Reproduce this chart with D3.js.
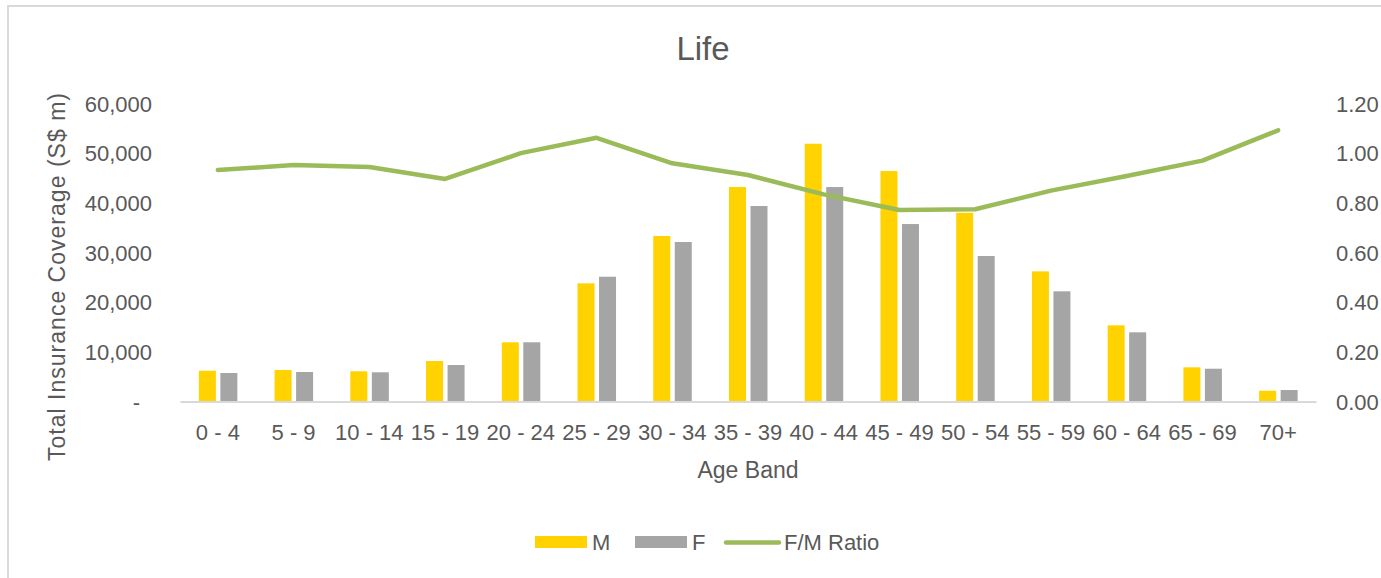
<!DOCTYPE html>
<html>
<head>
<meta charset="utf-8">
<script src="https://cdn.jsdelivr.net/npm/d3@7"></script>
<style>
  body { margin: 0; background: #fff; }
  text { font-family: "Liberation Sans", Arial, sans-serif; fill: #595959; }
</style>
</head>
<body>
<svg id="chart"></svg>
<script>
const ageBands = ["0 - 4", "5 - 9", "10 - 14", "15 - 19", "20 - 24", "25 - 29", "30 - 34",
  "35 - 39", "40 - 44", "45 - 49", "50 - 54", "55 - 59", "60 - 64", "65 - 69", "70+"];
const maleCover = [6200, 6340, 6080, 8150, 11920, 23790, 33320, 43180, 51900, 46400, 38000, 26200, 15340, 6880, 2170];
const femaleCover = [5740, 5940, 5880, 7350, 11920, 25120, 32110, 39360, 43180, 35730, 29290, 22180, 13930, 6600, 2310];
const fmRatio = [0.932, 0.952, 0.944, 0.896, 1.0, 1.062, 0.959, 0.912, 0.834, 0.771, 0.774, 0.849, 0.908, 0.970, 1.092];
const leftTicks = [0, 10000, 20000, 30000, 40000, 50000, 60000];
const rightTicks = [0, 0.2, 0.4, 0.6, 0.8, 1.0, 1.2];

const width = 1381, height = 578;
const margin = { top: 103.5, right: 65, bottom: 176.5, left: 180 };

const svg = d3.select("#chart").attr("width", width).attr("height", height);

// outer frame (only top and left edges visible)
svg.append("path")
  .attr("d", `M8,${height} V6 H${width}`)
  .attr("fill", "none")
  .attr("stroke", "#d9d9d9")
  .attr("stroke-width", 2);

const x = d3.scaleBand().domain(ageBands).range([margin.left, width - margin.right]);
const yL = d3.scaleLinear().domain([0, 60000]).range([height - margin.bottom, margin.top]);
const yR = d3.scaleLinear().domain([0, 1.2]).range([height - margin.bottom, margin.top]);

const barW = 17;

svg.append("text")
  .attr("x", 703).attr("y", 60)
  .attr("text-anchor", "middle")
  .style("font-size", "33px")
  .text("Life");

// left axis
const leftAxis = svg.append("g")
  .attr("transform", `translate(${margin.left - 25},0)`)
  .call(d3.axisLeft(yL).tickValues(leftTicks).tickSize(0)
    .tickFormat(d => d === 0 ? "-" : d3.format(",")(d)));
leftAxis.select(".domain").remove();
leftAxis.selectAll("text").style("font-size", "22px").attr("dy", "0.35em").attr("fill", "#595959");
leftAxis.selectAll(".tick").filter(d => d === 0).select("text").attr("dx", -12);

// right axis
const rightAxis = svg.append("g")
  .attr("transform", `translate(${width - margin.right + 17},0)`)
  .call(d3.axisRight(yR).tickValues(rightTicks).tickSize(0).tickFormat(d3.format(".2f")));
rightAxis.select(".domain").remove();
rightAxis.selectAll("text").style("font-size", "22px").attr("dy", "0.35em").attr("fill", "#595959");

// bars
svg.append("g").selectAll("rect").data(maleCover).join("rect")
  .attr("x", (d, i) => x(ageBands[i]) + x.bandwidth() / 2 - barW - 2)
  .attr("y", d => yL(d))
  .attr("width", barW)
  .attr("height", d => yL(0) - yL(d))
  .attr("fill", "#ffd200");

svg.append("g").selectAll("rect").data(femaleCover).join("rect")
  .attr("x", (d, i) => x(ageBands[i]) + x.bandwidth() / 2 + 2.5)
  .attr("y", d => yL(d))
  .attr("width", barW)
  .attr("height", d => yL(0) - yL(d))
  .attr("fill", "#a5a5a5");

// x axis
const xAxis = svg.append("g")
  .attr("transform", `translate(0,${yL(0)})`)
  .call(d3.axisBottom(x).tickSize(0).tickPadding(23));
xAxis.select(".domain").attr("stroke", "#d9d9d9").attr("stroke-width", 2);
xAxis.selectAll("text").style("font-size", "22px").attr("fill", "#595959");

// ratio line
const line = d3.line()
  .x((d, i) => x(ageBands[i]) + x.bandwidth() / 2)
  .y(d => yR(d));
svg.append("path")
  .datum(fmRatio)
  .attr("d", line)
  .attr("fill", "none")
  .attr("stroke", "#9bbb59")
  .attr("stroke-width", 4.5)
  .attr("stroke-linecap", "round")
  .attr("stroke-linejoin", "round");

// axis titles
svg.append("text")
  .attr("transform", `translate(65,277) rotate(-90)`)
  .attr("text-anchor", "middle")
  .attr("textLength", 368)
  .attr("lengthAdjust", "spacing")
  .style("font-size", "23px")
  .text("Total Insurance Coverage (S$ m)");

svg.append("text")
  .attr("x", 748).attr("y", 478)
  .attr("text-anchor", "middle")
  .style("font-size", "23px")
  .text("Age Band");

// legend
const legend = svg.append("g");
legend.append("rect").attr("x", 535).attr("y", 536).attr("width", 52).attr("height", 12).attr("fill", "#ffd200");
legend.append("text").attr("x", 592).attr("y", 550).style("font-size", "22px").text("M");
legend.append("rect").attr("x", 635).attr("y", 536).attr("width", 52).attr("height", 12).attr("fill", "#a5a5a5");
legend.append("text").attr("x", 692).attr("y", 550).style("font-size", "22px").text("F");
legend.append("line").attr("x1", 726).attr("x2", 779).attr("y1", 542.5).attr("y2", 542.5)
  .attr("stroke", "#9bbb59").attr("stroke-width", 4.5).attr("stroke-linecap", "round");
legend.append("text").attr("x", 784).attr("y", 550).style("font-size", "22px").text("F/M Ratio");
</script>
</body>
</html>
